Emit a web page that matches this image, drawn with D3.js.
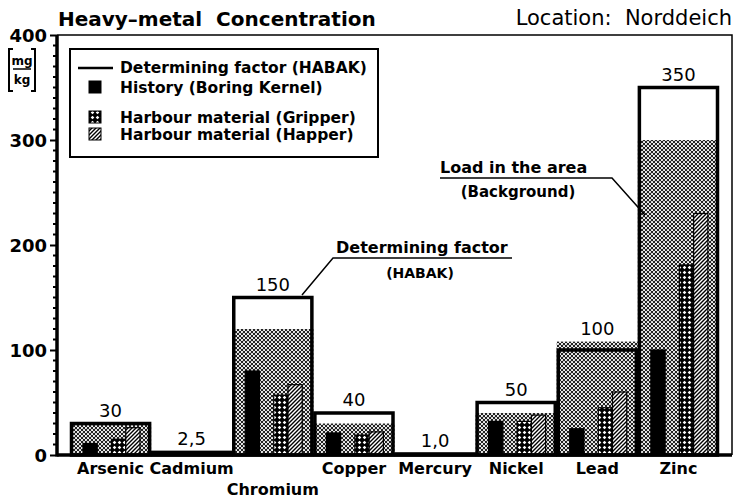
<!DOCTYPE html>
<html>
<head>
<meta charset="utf-8">
<script src="https://cdn.jsdelivr.net/npm/d3@7"></script>
<style>
  body { margin: 0; background: #fff; }
  svg { font-family: "DejaVu Sans", "Liberation Sans", Arial, sans-serif; }
</style>
</head>
<body>
<div id="chart"></div>
<script>
// Chart data
var categories = ["Arsenic", "Cadmium", "Chromium", "Copper", "Mercury", "Nickel", "Lead", "Zinc"];
var habak = [30, 2.5, 150, 40, 1.0, 50, 100, 350];
var habakLabels = ["30", "2,5", "150", "40", "1,0", "50", "100", "350"];
var background = [29, 0, 120, 30, 0, 40, 108, 300];
var boringKernel = [11, 0, 80, 21, 0, 32, 25, 100];
var gripper = [15, 0, 57, 19, 0, 32, 45, 181];
var happer = [26, 0, 67, 22, 0, 38, 60, 230];
var yTicks = [0, 100, 200, 300, 400];

// SVG area
var svgWidth = 735;
var svgHeight = 499;

var chartMargin = {
    top: 35,
    right: 3,
    bottom: 44,
    left: 57
};

var chartWidth = svgWidth - chartMargin.left - chartMargin.right;
var chartHeight = svgHeight - chartMargin.top - chartMargin.bottom;

var svg = d3.select("#chart")
    .append("svg")
    .attr("width", svgWidth)
    .attr("height", svgHeight);

// Fill patterns
var defs = svg.append("defs");

var dots = defs.append("pattern")
    .attr("id", "dots")
    .attr("patternUnits", "userSpaceOnUse")
    .attr("width", 4)
    .attr("height", 4);
dots.append("rect").attr("width", 4).attr("height", 4).attr("fill", "#222");
dots.append("circle").attr("cx", 1).attr("cy", 1).attr("r", 1.05).attr("fill", "#fff");
dots.append("circle").attr("cx", 3).attr("cy", 3).attr("r", 1.05).attr("fill", "#fff");

var cross = defs.append("pattern")
    .attr("id", "cross")
    .attr("patternUnits", "userSpaceOnUse")
    .attr("width", 5)
    .attr("height", 5);
cross.append("rect").attr("width", 5).attr("height", 5).attr("fill", "#000");
cross.append("path")
    .attr("d", "M2.5,0.7 L4.3,2.5 L2.5,4.3 L0.7,2.5 Z")
    .attr("fill", "#fff");

var diag = defs.append("pattern")
    .attr("id", "diag")
    .attr("patternUnits", "userSpaceOnUse")
    .attr("width", 4)
    .attr("height", 4);
diag.append("rect").attr("width", 4).attr("height", 4).attr("fill", "#fff");
diag.append("path")
    .attr("d", "M-1,5 L5,-1 M-1,1 L1,-1 M3,5 L5,3")
    .attr("stroke", "#000")
    .attr("stroke-width", 1.4);

var chartGroup = svg.append("g")
    .attr("transform", `translate(${chartMargin.left}, ${chartMargin.top})`);

// Scales
var xBandScale = d3.scaleBand()
    .domain(categories)
    .range([13, 662])
    .padding(0);

var xInnerScale = d3.scaleBand()
    .domain(["History", "gap", "Gripper", "Happer"])
    .range([13, 70])
    .padding(0);

var yLinearScale = d3.scaleLinear()
    .domain([0, 400])
    .range([chartHeight, 0]);

// Frame (top and right)
chartGroup.append("path")
    .attr("d", `M0,0 H${chartWidth} V${chartHeight}`)
    .attr("fill", "none")
    .attr("stroke", "#000")
    .attr("stroke-width", 1.5);

// Background load bars
chartGroup.selectAll(".bg")
    .data(categories)
    .enter()
    .append("rect")
    .attr("class", "bg")
    .attr("x", d => xBandScale(d))
    .attr("width", xBandScale.bandwidth())
    .attr("y", (d, i) => yLinearScale(background[i]))
    .attr("height", (d, i) => chartHeight - yLinearScale(background[i]))
    .attr("fill", "url(#dots)");

// Inner bars
var series = [
    { key: "History", values: boringKernel, fill: "#000" },
    { key: "Gripper", values: gripper, fill: "url(#cross)" },
    { key: "Happer", values: happer, fill: "url(#diag)" }
];

series.forEach(function (s) {
    chartGroup.selectAll(".bar-" + s.key)
        .data(categories.filter((d, i) => s.values[i] > 0))
        .enter()
        .append("rect")
        .attr("class", "bar-" + s.key)
        .attr("x", d => xBandScale(d) + xInnerScale(s.key))
        .attr("width", xInnerScale.bandwidth())
        .attr("y", d => yLinearScale(s.values[categories.indexOf(d)]))
        .attr("height", d => chartHeight - yLinearScale(s.values[categories.indexOf(d)]))
        .attr("fill", s.fill)
        .attr("stroke", "#000")
        .attr("stroke-width", 1.2);
});

// Determining factor boxes
chartGroup.selectAll(".habak")
    .data(categories)
    .enter()
    .append("rect")
    .attr("class", "habak")
    .attr("x", d => xBandScale(d) + 1.5)
    .attr("width", xBandScale.bandwidth() - 3)
    .attr("y", (d, i) => yLinearScale(habak[i]))
    .attr("height", (d, i) => chartHeight - yLinearScale(habak[i]))
    .attr("fill", "none")
    .attr("stroke", "#000")
    .attr("stroke-width", 3.5);

// Value labels
chartGroup.selectAll(".value")
    .data(categories)
    .enter()
    .append("text")
    .attr("class", "value")
    .attr("x", d => xBandScale(d) + xBandScale.bandwidth() / 2)
    .attr("y", (d, i) => yLinearScale(Math.max(habak[i], background[i])) - 7)
    .attr("text-anchor", "middle")
    .attr("font-size", 18)
    .text((d, i) => habakLabels[i]);

// Category labels (Chromium on a second line)
chartGroup.selectAll(".cat")
    .data(categories)
    .enter()
    .append("text")
    .attr("class", "cat")
    .attr("x", d => xBandScale(d) + xBandScale.bandwidth() / 2)
    .attr("y", d => chartHeight + (d === "Chromium" ? 40 : 19))
    .attr("text-anchor", "middle")
    .attr("font-weight", "bold")
    .attr("font-size", 16)
    .text(d => d);

// Axes
var leftAxis = d3.axisLeft(yLinearScale)
    .tickValues(yTicks)
    .tickSize(7)
    .tickPadding(3);

var yAxisGroup = chartGroup.append("g")
    .call(leftAxis);
yAxisGroup.select(".domain").remove();
yAxisGroup.selectAll("line").attr("stroke-width", 2);
yAxisGroup.selectAll("text")
    .attr("font-family", "DejaVu Sans")
    .attr("font-weight", "bold")
    .attr("font-size", 18)
    .attr("dy", "0.35em");

// Minor ticks every 10
chartGroup.selectAll(".minor")
    .data(d3.range(10, 400, 10).filter(v => v % 100 !== 0))
    .enter()
    .append("line")
    .attr("class", "minor")
    .attr("x1", -4)
    .attr("x2", 0)
    .attr("y1", d => yLinearScale(d))
    .attr("y2", d => yLinearScale(d))
    .attr("stroke", "#000")
    .attr("stroke-width", 2);

chartGroup.append("line")
    .attr("x1", 0).attr("x2", 0)
    .attr("y1", 0).attr("y2", chartHeight + 1.5)
    .attr("stroke", "#000")
    .attr("stroke-width", 3.5);

chartGroup.append("line")
    .attr("x1", 0).attr("x2", chartWidth)
    .attr("y1", chartHeight).attr("y2", chartHeight)
    .attr("stroke", "#000")
    .attr("stroke-width", 3.5);

// Unit label [mg/kg]
var unit = svg.append("g").attr("transform", "translate(22, 0)");
unit.append("path")
    .attr("d", "M-9,49 H-13 V91 H-9 M9,49 H13 V91 H9")
    .attr("fill", "none")
    .attr("stroke", "#000")
    .attr("stroke-width", 2);
unit.append("line")
    .attr("x1", -9).attr("x2", 9)
    .attr("y1", 69).attr("y2", 69)
    .attr("stroke", "#000")
    .attr("stroke-width", 1.5);
unit.append("text").attr("y", 65).attr("text-anchor", "middle")
    .attr("font-weight", "bold").attr("font-size", 12).text("mg");
unit.append("text").attr("y", 84).attr("text-anchor", "middle")
    .attr("font-weight", "bold").attr("font-size", 12).text("kg");

// Titles
svg.append("text")
    .attr("x", 58)
    .attr("y", 26)
    .attr("font-weight", "bold")
    .attr("font-size", 20)
    .style("white-space", "pre")
    .text("Heavy\u2013metal  Concentration");

svg.append("text")
    .attr("x", 732)
    .attr("y", 25)
    .attr("text-anchor", "end")
    .attr("font-size", 21)
    .style("white-space", "pre")
    .text("Location:  Norddeich");

// Legend
var legend = svg.append("g");
legend.append("rect")
    .attr("x", 70).attr("y", 49)
    .attr("width", 308).attr("height", 108)
    .attr("fill", "#fff")
    .attr("stroke", "#000")
    .attr("stroke-width", 2);

var legendItems = [
    { label: "Determining factor (HABAK)", y: 73, kind: "line" },
    { label: "History (Boring Kernel)", y: 93, kind: "#000" },
    { label: "Harbour material (Gripper)", y: 123, kind: "url(#cross)" },
    { label: "Harbour material (Happer)", y: 140, kind: "url(#diag)" }
];

legendItems.forEach(function (item) {
    if (item.kind === "line") {
        legend.append("line")
            .attr("x1", 78).attr("x2", 113)
            .attr("y1", item.y - 5).attr("y2", item.y - 5)
            .attr("stroke", "#000")
            .attr("stroke-width", 2.5);
    } else {
        legend.append("rect")
            .attr("x", 89).attr("y", item.y - 12)
            .attr("width", 12).attr("height", 12)
            .attr("fill", item.kind)
            .attr("stroke", "#000")
            .attr("stroke-width", 1);
    }
    legend.append("text")
        .attr("x", 120)
        .attr("y", item.y)
        .attr("font-weight", "bold")
        .attr("font-size", 15.5)
        .text(item.label);
});

// Annotations
var notes = svg.append("g");
notes.append("text")
    .attr("x", 336).attr("y", 253)
    .attr("font-weight", "bold").attr("font-size", 16)
    .text("Determining factor");
notes.append("text")
    .attr("x", 420).attr("y", 278)
    .attr("text-anchor", "middle")
    .attr("font-weight", "bold").attr("font-size", 14)
    .text("(HABAK)");
notes.append("path")
    .attr("d", "M512,258 H333 L302,295")
    .attr("fill", "none")
    .attr("stroke", "#000")
    .attr("stroke-width", 1.5);

notes.append("text")
    .attr("x", 440).attr("y", 173)
    .attr("font-weight", "bold").attr("font-size", 16)
    .text("Load in the area");
notes.append("text")
    .attr("x", 518).attr("y", 197)
    .attr("text-anchor", "middle")
    .attr("font-weight", "bold").attr("font-size", 15)
    .text("(Background)");
notes.append("path")
    .attr("d", "M440,178 H612 L645,215")
    .attr("fill", "none")
    .attr("stroke", "#000")
    .attr("stroke-width", 1.5);
</script>
</body>
</html>
